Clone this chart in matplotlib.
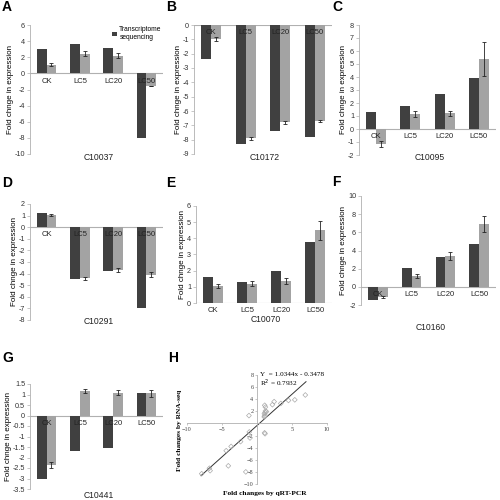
import matplotlib
matplotlib.use("Agg")
import matplotlib.pyplot as plt
import numpy as np

plt.rcParams['font.family'] = ['Liberation Sans', 'DejaVu Sans']

categories = ["CK", "LC5", "LC20", "LC50"]

genes = ["C10037", "C10172", "C10095", "C10291", "C10070", "C10160", "C10441"]
panel_letters = ["A", "B", "C", "D", "E", "F", "G"]

# Transcriptome sequencing (dark) values
seq_C10037 = [3.0, 3.6, 3.1, -8.0]
seq_C10172 = [-2.4, -8.3, -7.4, -7.8]
seq_C10095 = [1.3, 1.8, 2.7, 3.9]
seq_C10291 = [1.2, -4.5, -3.8, -7.0]
seq_C10070 = [1.6, 1.3, 1.95, 3.8]
seq_C10160 = [-1.4, 2.05, 3.3, 4.7]
seq_C10441 = [-3.0, -1.7, -1.55, 1.05]

# qRT-PCR (light) values and errors
qpcr_C10037 = [1.1, 2.45, 2.2, -1.6]
qpcr_C10172 = [-1.0, -7.9, -6.8, -6.7]
qpcr_C10095 = [-1.15, 1.15, 1.2, 5.4]
qpcr_C10291 = [1.05, -4.4, -3.7, -4.1]
qpcr_C10070 = [1.05, 1.2, 1.35, 4.5]
qpcr_C10160 = [-1.1, 1.2, 3.4, 6.9]
qpcr_C10441 = [-2.35, 1.15, 1.08, 1.05]

err_C10037 = [0.2, 0.3, 0.35, 0.0]
err_C10172 = [0.15, 0.1, 0.12, 0.1]
err_C10095 = [0.25, 0.2, 0.2, 1.3]
err_C10291 = [0.1, 0.15, 0.2, 0.2]
err_C10070 = [0.15, 0.15, 0.2, 0.6]
err_C10160 = [0.1, 0.2, 0.45, 0.9]
err_C10441 = [0.15, 0.1, 0.12, 0.15]

ylims = [(-10, 6), (-9, 0), (-2, 8), (-8, 2), (0, 6), (-2, 10), (-3.5, 1.5)]
yticks = [np.arange(-10, 7, 2), np.arange(-9, 1, 1), np.arange(-2, 9, 1),
          np.arange(-8, 3, 1), np.arange(0, 7, 1), np.arange(-2, 11, 2),
          np.arange(-3.5, 1.6, 0.5)]

fit_slope = 1.0344
fit_intercept = -0.3478
r2 = 0.7932

seq_all = [seq_C10037, seq_C10172, seq_C10095, seq_C10291, seq_C10070, seq_C10160, seq_C10441]
qpcr_all = [qpcr_C10037, qpcr_C10172, qpcr_C10095, qpcr_C10291, qpcr_C10070, qpcr_C10160, qpcr_C10441]
err_all = [err_C10037, err_C10172, err_C10095, err_C10291, err_C10070, err_C10160, err_C10441]

DARK = "#404040"
LIGHT = "#a3a3a3"
AXC = "#b0b0b0"

fig = plt.figure(figsize=(5, 5), dpi=100)
W = H = 500.0


def ax_px(l, t, r, b):
    return fig.add_axes([l / W, 1 - b / H, (r - l) / W, (b - t) / H])


boxes = [(30, 25, 163, 154), (194, 25, 332, 154), (359, 25, 496, 155),
         (30, 204, 163, 320), (196, 206, 332, 303), (361, 196, 496, 305),
         (30, 384, 163, 489)]
gene_label_y = [157, 157, 157, 322, 319, 328, 495]
letter_pos = [(2, 11), (166, 11), (332, 11), (2, 187), (166, 187), (332, 186), (2, 362)]

x = np.arange(len(categories))
bw = 0.29
for i in range(7):
    l, t, r, b = boxes[i]
    ax = ax_px(l, t, r, b)
    ax.bar(x - bw / 2, seq_all[i], width=bw, color=DARK, label="Transcriptome\nsequencing", zorder=2)
    ax.bar(x + bw / 2, qpcr_all[i], width=bw, color=LIGHT, zorder=2)
    ax.errorbar(x + bw / 2, qpcr_all[i], yerr=err_all[i], fmt="none", ecolor="#222222",
                elinewidth=0.6, capsize=1.2, capthick=0.6, zorder=3)
    ax.set_xlim(-0.5, 3.5)
    ax.set_ylim(*ylims[i])
    ax.set_yticks(yticks[i])
    ax.set_yticklabels([("%g" % v) for v in yticks[i]], fontsize=5.2, color="#333333")
    ax.tick_params(axis="y", length=2, width=0.5, color=AXC, pad=1.5)
    ax.set_xticks([])
    for s in ["top", "right", "bottom"]:
        ax.spines[s].set_visible(False)
    ax.spines["left"].set_color(AXC)
    ax.spines["left"].set_linewidth(0.6)
    ax.axhline(0, color=AXC, lw=0.8, zorder=1)
    for j, c in enumerate(categories):
        ax.annotate(c, xy=(j, 0), xytext=(0, -3), textcoords="offset points",
                    ha="center", va="top", fontsize=5.5, color="#222222", zorder=4)
    ax.set_ylabel("Fold chnge in expression", fontsize=5.8, labelpad=0.5)
    ax.patch.set_alpha(0)
    fig.text(((l + r) / 2 + 2) / W, 1 - gene_label_y[i] / H, genes[i], ha="center",
             va="center", fontsize=6.2, color="#222222")
    fig.text(letter_pos[i][0] / W, 1 - letter_pos[i][1] / H, panel_letters[i],
             fontsize=10, fontweight="bold", ha="left", va="baseline")
    if i == 0:
        leg = ax.legend(loc="upper right", bbox_to_anchor=(1.02, 1.02), fontsize=4.8,
                        frameon=False, handlelength=0.7, handleheight=0.7,
                        handletextpad=0.4, borderaxespad=0.2)

# Panel H scatter
sx = np.concatenate([np.array(q) for q in qpcr_all])
sy = np.concatenate([np.array(s) for s in seq_all])
axh = ax_px(187, 375, 327, 484)
axh.scatter(sx, sy, s=6, marker="D", facecolors="none", edgecolors="#aaaaaa", linewidths=0.5, zorder=3)
fx = np.array([-8.0, 7.0])
axh.plot(fx, fit_slope * fx + fit_intercept, color="#333333", lw=0.7, zorder=2)
axh.set_xlim(-10, 10)
axh.set_ylim(-10, 8)
axh.spines["left"].set_position(("data", 0))
axh.spines["bottom"].set_position(("data", 0))
axh.spines["top"].set_visible(False)
axh.spines["right"].set_visible(False)
for s in ["left", "bottom"]:
    axh.spines[s].set_color(AXC)
    axh.spines[s].set_linewidth(0.6)
axh.set_xticks([-10, -5, 5, 10])
axh.set_yticks([-10, -8, -6, -4, -2, 2, 4, 6, 8])
axh.tick_params(labelsize=4.5, length=1.5, width=0.5, color=AXC, pad=1, direction="out")
for lab in axh.get_xticklabels() + axh.get_yticklabels():
    lab.set_family(["Liberation Serif", "DejaVu Serif"])
    lab.set_color("#444444")
axh.patch.set_alpha(0)
serif = ["Liberation Serif", "DejaVu Serif"]
axh.text(0.5, 8.0, "Y  = %.4fx - %.4f" % (fit_slope, -fit_intercept), family=serif,
         fontsize=5.2, va="center", ha="left")
axh.text(0.5, 6.7, "R$^2$ = %.4f" % r2, family=serif, fontsize=5.2, va="center", ha="left")
fig.text(180 / W, 1 - 430 / H, "Fold changes by RNA-seq", rotation=90, family=serif,
         fontweight="bold", fontsize=5.3, ha="center", va="center")
fig.text(265 / W, 1 - 494 / H, "Fold changes by qRT-PCR", family=serif,
         fontweight="bold", fontsize=5.3, ha="center", va="center")
fig.text(168 / W, 1 - 362 / H, "H", fontsize=10, fontweight="bold", ha="left", va="baseline")

fig.savefig("out.png", dpi=100)
